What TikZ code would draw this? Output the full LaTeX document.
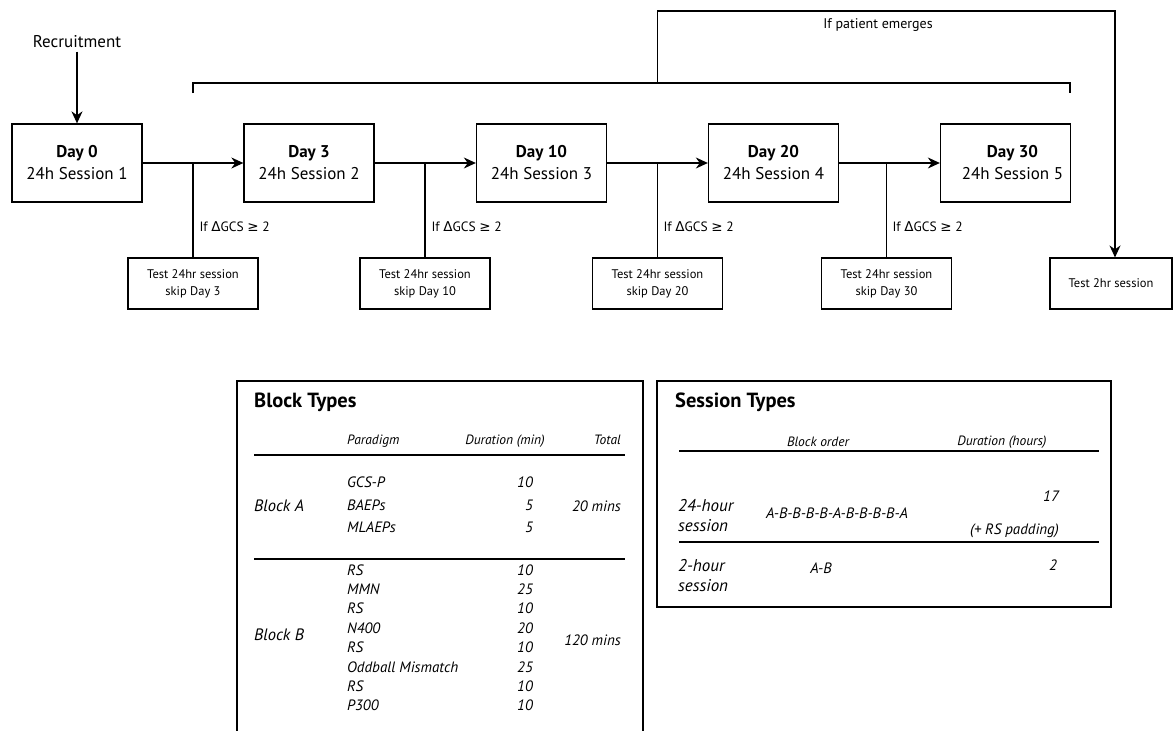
\documentclass[tikz,border=0pt]{standalone}
\usepackage{fontspec}
\setmainfont{PT Sans}
\newfontfamily\symfont{DejaVu Sans}
\usetikzlibrary{arrows.meta}
\tikzset{
  daybox/.style={draw, line width=1.3pt, minimum width=130pt, minimum height=78pt, align=center, font=\fontsize{17}{22}\selectfont},
  testbox/.style={draw, line width=1.1pt, minimum width=130pt, minimum height=51pt, align=center, font=\fontsize{12.5}{17}\selectfont},
  iflabel/.style={anchor=west, font=\fontsize{13.5}{17}\selectfont},
  flow/.style={line width=1.3pt, -{Stealth[length=12pt,width=11pt]}},
  link/.style={line width=1.3pt},
  cell/.style={font=\fontsize{15}{18}\selectfont\itshape, inner sep=0pt},
  headcell/.style={font=\fontsize{13.5}{16}\selectfont\itshape, inner sep=0pt},
  rowname/.style={font=\fontsize{16.5}{20}\selectfont\itshape, inner sep=0pt, align=left},
  tabtitle/.style={font=\fontsize{20.5}{24}\selectfont\bfseries, anchor=west, inner sep=0pt},
}
\newcommand{\dgcs}{If {\symfont Δ}GCS {\symfont ≥} 2}
\begin{document}
\begin{tikzpicture}[x=1pt,y=-1pt]
  \useasboundingbox (0,0) rectangle (1173,731);

  % sessions
  \node[font=\fontsize{17}{20}\selectfont] (recruit) at (77,42) {Recruitment};
  \node[daybox] (day0) at (77,163) {\textbf{Day 0}\\24h Session 1};
  \node[daybox] (day3) at (309,163) {\textbf{Day 3}\\24h Session 2};
  \node[daybox] (day10) at (541.5,163) {\textbf{Day 10}\\24h Session 3};
  \node[daybox] (day20) at (773.5,163) {\textbf{Day 20}\\24h Session 4};
  \node[daybox] (day30) at (1005.5,163) {\hspace*{14pt}\textbf{Day 30}\\\hspace*{14pt}24h Session 5};
  \draw[flow] (recruit) -- (day0);
  \draw[flow] (day0) -- (day3);
  \draw[flow] (day3) -- (day10);
  \draw[flow] (day10) -- (day20);
  \draw[flow] (day20) -- (day30);

  % skip branches
  \coordinate (br1) at (193,163);
  \coordinate (br2) at (425,163);
  \coordinate (br3) at (657.5,163);
  \coordinate (br4) at (886.5,163);
  \node[testbox] (skip3) at (193,283.5) {Test 24hr session\\skip Day 3};
  \node[testbox] (skip10) at (425,283.5) {Test 24hr session\\skip Day 10};
  \node[testbox] (skip20) at (657.5,283.5) {Test 24hr session\\skip Day 20};
  \node[testbox] (skip30) at (886.5,283.5) {Test 24hr session\\skip Day 30};
  \draw[link] (br1) -- (skip3.north);
  \draw[link] (br2) -- (skip10.north);
  \draw[link] (br3) -- (skip20.north);
  \draw[link] (br4) -- (skip30.north);
  \node[iflabel] (if1) at (196,227) {\dgcs};
  \node[iflabel] (if2) at (428,227) {\dgcs};
  \node[iflabel] (if3) at (660,227) {\dgcs};
  \node[iflabel] (if4) at (889,227) {\dgcs};

  % emergence
  \draw[link] (193,93) -- (193,83) -- (1070,83) -- (1070,93);
  \coordinate (emerge) at (657.5,83);
  \node[testbox, minimum width=122pt] (twohr) at (1111,283.5) {Test 2hr session};
  \draw[flow] (emerge) -- (657.5,11) -| ([xshift=4pt]twohr.north);
  \node[font=\fontsize{14}{17}\selectfont] (emlabel) at (878,25) {If patient emerges};

  % block types
  \draw[link] (237,732) -- (237,381) -- (643,381) -- (643,732);
  \node[tabtitle] (blocktitle) at (254,402) {Block Types};
  \node[headcell, anchor=mid west] (hpar) at (347,442) {Paradigm};
  \node[headcell, anchor=mid east] (hdur) at (545,442) {Duration (min)};
  \node[headcell, anchor=mid east] (htot) at (621,442) {Total};
  \draw[link] (254,455) -- (625,455);
  \node[rowname, anchor=mid west] (blocka) at (254,509) {Block A};
  \node[cell, anchor=mid west] (pa1) at (347,485) {GCS-P};
  \node[cell, anchor=mid west] (pa2) at (347,508) {BAEPs};
  \node[cell, anchor=mid west] (pa3) at (347,530) {MLAEPs};
  \node[cell, anchor=mid east] (da1) at (533,485) {10};
  \node[cell, anchor=mid east] (da2) at (533,508) {5};
  \node[cell, anchor=mid east] (da3) at (533,530) {5};
  \node[cell, anchor=mid east] (tota) at (621,509) {20 mins};
  \draw[link] (254,559) -- (625,559);
  \node[rowname, anchor=mid west] (blockb) at (254,638) {Block B};
  \node[cell, anchor=mid west] (pb1) at (347,573) {RS};
  \node[cell, anchor=mid west] (pb2) at (347,592) {MMN};
  \node[cell, anchor=mid west] (pb3) at (347,611) {RS};
  \node[cell, anchor=mid west] (pb4) at (347,631) {N400};
  \node[cell, anchor=mid west] (pb5) at (347,650) {RS};
  \node[cell, anchor=mid west] (pb6) at (347,670) {Oddball Mismatch};
  \node[cell, anchor=mid west] (pb7) at (347,689) {RS};
  \node[cell, anchor=mid west] (pb8) at (347,708) {P300};
  \node[cell, anchor=mid east] (db1) at (533,573) {10};
  \node[cell, anchor=mid east] (db2) at (533,592) {25};
  \node[cell, anchor=mid east] (db3) at (533,611) {10};
  \node[cell, anchor=mid east] (db4) at (533,631) {20};
  \node[cell, anchor=mid east] (db5) at (533,650) {10};
  \node[cell, anchor=mid east] (db6) at (533,670) {25};
  \node[cell, anchor=mid east] (db7) at (533,689) {10};
  \node[cell, anchor=mid east] (db8) at (533,708) {10};
  \node[cell, anchor=mid east] (totb) at (621,643) {120 mins};

  % session types
  \draw[link] (657,381) rectangle (1111,607);
  \node[tabtitle] (sesstitle) at (675,402) {Session Types};
  \node[headcell] (horder) at (818,442) {Block order};
  \node[headcell] (hhours) at (1002,442) {Duration (hours)};
  \draw[link] (679,451) -- (1099,451);
  \node[rowname, anchor=west, font=\fontsize{17}{20}\selectfont\itshape] (s24) at (678,516) {24-hour\\session};
  \node[cell] (o24) at (837,513) {A-B-B-B-B-A-B-B-B-B-A};
  \node[cell, anchor=mid east] (h24) at (1059,499) {17};
  \node[cell, anchor=mid east] (pad24) at (1059,532) {(+ RS padding)};
  \draw[link] (679,542) -- (1099,542);
  \node[rowname, anchor=west, font=\fontsize{17}{20}\selectfont\itshape] (s2) at (678,576) {2-hour\\session};
  \node[cell] (o2) at (821,568) {A-B};
  \node[cell, anchor=mid east] (h2) at (1057,568) {2};
\end{tikzpicture}
\end{document}
